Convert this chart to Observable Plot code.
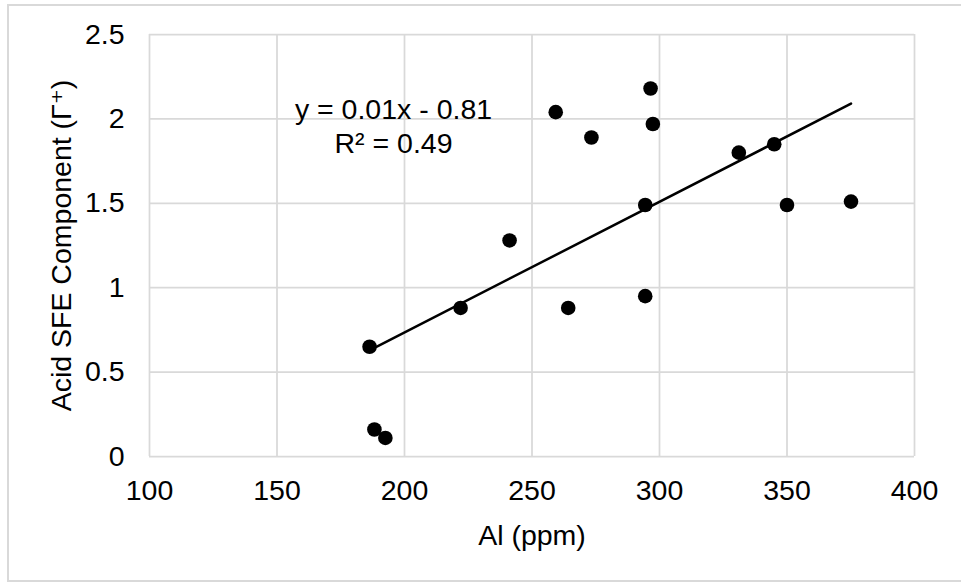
<!DOCTYPE html>
<html>
<head>
<meta charset="utf-8">
<script src="https://cdn.jsdelivr.net/npm/d3@7"></script>
<script src="https://cdn.jsdelivr.net/npm/@observablehq/plot@0.6"></script>
<style>
  html, body { margin: 0; padding: 0; background: #fff; }
  #wrap { position: relative; width: 961px; height: 582px; overflow: hidden; }
  #border { position: absolute; left: 7px; top: 4px; width: 970px; height: 578px; box-sizing: border-box; border: 2px solid #d9d9d9; pointer-events: none; }
  #chart { position: absolute; left: 0; top: 0; }
</style>
</head>
<body>
<div id="wrap"><div id="chart"></div><div id="border"></div></div>
<script>
// Data
const alPpm   = [186.3, 188.2, 192.5, 222.0, 241.2, 259.3, 273.3, 264.2, 294.4, 294.4, 296.5, 297.4, 331.1, 345.0, 350.0, 375.1];
const acidSfe = [0.65, 0.16, 0.11, 0.88, 1.28, 2.04, 1.89, 0.88, 0.95, 1.49, 2.18, 1.97, 1.80, 1.85, 1.49, 1.51];
const xTicks = [100, 150, 200, 250, 300, 350, 400];
const yTicks = [0, 0.5, 1, 1.5, 2, 2.5];
const xTitle = ["Al (ppm)"];
const yTitle = ["Acid SFE Component (\u0393\u207A)"];
const trendLabel = ["y = 0.01x - 0.81\nR\u00B2 = 0.49"];

const data = alPpm.map((x, i) => ({x, y: acidSfe[i]}));
const font = "'Liberation Sans', Arial, 'DejaVu Sans', sans-serif";
const fs = 28.5;
const grid = {stroke: "#d9d9d9", strokeOpacity: 1, strokeWidth: 1.75};

const chart = Plot.plot({
  width: 961,
  height: 582,
  marginLeft: 149,
  marginRight: 47,
  marginTop: 34,
  marginBottom: 126,
  style: {fontFamily: font, fontSize: fs + "px", background: "transparent", color: "#000"},
  x: {domain: [100, 400], label: null},
  y: {domain: [0, 2.5], label: null},
  marks: [
    Plot.gridX(xTicks, grid),
    Plot.gridY(yTicks, grid),
    Plot.axisX(xTicks, {tickSize: 0, tickPadding: 23, tickFormat: d => String(d), label: null, fontSize: fs, fill: "#000"}),
    Plot.axisY(yTicks, {tickSize: 0, tickPadding: 25, tickFormat: d => String(d), label: null, fontSize: fs, fill: "#000"}),
    Plot.linearRegressionY(data, {x: "x", y: "y", ci: 0, stroke: "#000", strokeWidth: 2.5}),
    Plot.dot(data, {x: "x", y: "y", r: 7.3, fill: "#000", stroke: "none"}),
    Plot.text(trendLabel, {text: d => d, frameAnchor: "top-left", dx: 244, dy: 60, textAnchor: "middle", lineAnchor: "top", lineHeight: 34 / fs, fontSize: fs, fill: "#000"}),
    Plot.text(xTitle, {text: d => d, frameAnchor: "bottom", dy: 68, textAnchor: "middle", lineAnchor: "top", fontSize: fs, fill: "#000"}),
    Plot.text(yTitle, {text: d => d, frameAnchor: "left", dx: -88, rotate: -90, textAnchor: "middle", lineAnchor: "middle", fontSize: fs, fill: "#000"})
  ]
});
document.getElementById("chart").appendChild(chart);
</script>
</body>
</html>
